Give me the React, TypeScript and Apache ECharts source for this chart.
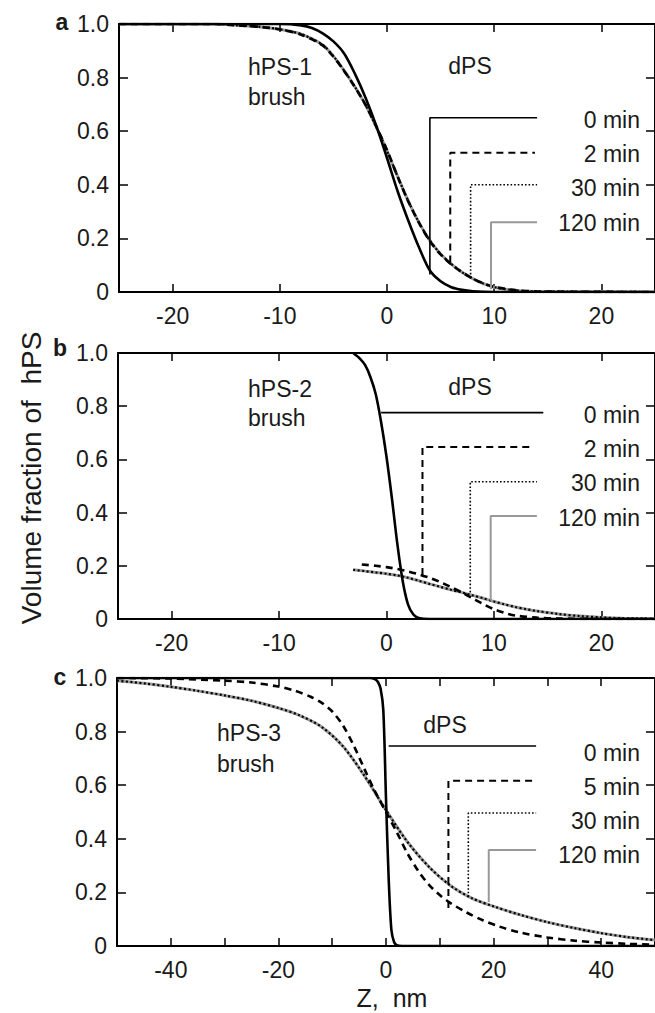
import React, { useEffect, useRef } from "react";
import * as echarts from "echarts";

// ---------- Data ----------
// Panel a (hPS-1 brush)
const aX0 = [-25, -10, -8, -7, -6, -5, -4, -3, -2, -1, 0, 1, 2, 3, 4, 5, 6, 7, 8, 10, 25];
const a0Min = [1, 1, 0.995, 0.985, 0.965, 0.935, 0.89, 0.815, 0.725, 0.62, 0.5, 0.375, 0.265, 0.165, 0.08, 0.04, 0.018, 0.008, 0.003, 0, 0];
const aX = [-25, -16, -14, -12, -10, -8, -6, -5, -4, -3, -2, -1, 0, 1, 2, 3, 4, 5, 6, 7, 8, 9, 10, 12, 14, 25];
const a2Min = [1, 1, 0.995, 0.99, 0.98, 0.96, 0.92, 0.878, 0.825, 0.765, 0.698, 0.618, 0.53, 0.43, 0.337, 0.257, 0.19, 0.14, 0.103, 0.074, 0.05, 0.032, 0.019, 0.007, 0.002, 0];
const a30Min = [1, 1, 0.995, 0.99, 0.98, 0.962, 0.922, 0.88, 0.826, 0.766, 0.698, 0.616, 0.527, 0.43, 0.338, 0.258, 0.192, 0.142, 0.104, 0.074, 0.05, 0.031, 0.018, 0.006, 0.002, 0];
const a120Min = [1, 1, 0.995, 0.99, 0.98, 0.962, 0.922, 0.88, 0.826, 0.766, 0.698, 0.616, 0.527, 0.43, 0.338, 0.258, 0.192, 0.142, 0.104, 0.074, 0.05, 0.031, 0.018, 0.006, 0.002, 0];

// Panel b (hPS-2 brush)
const bX0 = [-3.1, -2.5, -2, -1.5, -1, -0.5, 0, 0.5, 1, 1.5, 2, 2.5, 3, 4, 25];
const b0Min = [1, 0.98, 0.955, 0.91, 0.845, 0.74, 0.61, 0.455, 0.285, 0.145, 0.055, 0.017, 0.004, 0, 0];
const bX2 = [-2.3, -1, 0, 1, 2, 3, 4, 5, 6, 7, 8, 9, 10, 11, 12, 14, 16, 20, 25];
const b2Min = [0.205, 0.2, 0.195, 0.188, 0.179, 0.168, 0.155, 0.139, 0.12, 0.1, 0.078, 0.056, 0.037, 0.023, 0.013, 0.005, 0.002, 0, 0];
const bX = [-3.1, -2, -1, 0, 1, 2, 3, 4, 5, 6, 7, 8, 9, 10, 11, 12, 13, 14, 16, 18, 20, 22, 25];
const b30Min = [0.185, 0.18, 0.175, 0.17, 0.164, 0.155, 0.144, 0.132, 0.121, 0.11, 0.1, 0.089, 0.078, 0.066, 0.055, 0.045, 0.037, 0.03, 0.019, 0.011, 0.006, 0.003, 0.001];
const b120Min = [0.185, 0.18, 0.175, 0.17, 0.164, 0.155, 0.144, 0.132, 0.121, 0.11, 0.1, 0.089, 0.078, 0.066, 0.055, 0.045, 0.037, 0.03, 0.019, 0.011, 0.006, 0.003, 0.001];

// Panel c (hPS-3 brush)
const cX0 = [-50, -3, -2, -1.5, -1, -0.5, 0, 0.5, 1, 1.5, 2, 3, 50];
const c0Min = [1, 1, 0.995, 0.985, 0.96, 0.88, 0.55, 0.25, 0.06, 0.015, 0.003, 0, 0];
const cX5 = [-50, -40, -30, -25, -20, -17, -14, -12, -10, -8, -6, -4, -2, 0, 2, 4, 6, 8, 10, 12, 15, 18, 21, 25, 30, 35, 40, 45, 50];
const c5Min = [1, 0.998, 0.99, 0.983, 0.968, 0.953, 0.93, 0.908, 0.875, 0.823, 0.748, 0.66, 0.575, 0.5, 0.425, 0.345, 0.28, 0.228, 0.19, 0.16, 0.125, 0.096, 0.073, 0.05, 0.032, 0.02, 0.013, 0.008, 0.005];
const cX = [-50, -45, -40, -35, -30, -25, -20, -16, -12, -8, -4, 0, 4, 8, 12, 16, 20, 25, 30, 35, 40, 45, 50];
const c30Min = [0.99, 0.98, 0.967, 0.952, 0.935, 0.915, 0.888, 0.86, 0.818, 0.745, 0.635, 0.507, 0.388, 0.295, 0.225, 0.178, 0.148, 0.116, 0.089, 0.067, 0.048, 0.033, 0.022];
const c120Min = [0.99, 0.98, 0.967, 0.952, 0.935, 0.915, 0.888, 0.86, 0.818, 0.745, 0.635, 0.507, 0.388, 0.295, 0.225, 0.178, 0.148, 0.116, 0.089, 0.067, 0.048, 0.033, 0.022];

// Legend leader lines (data coordinates): [x, yCurve, yLabel, xEnd]
const aLeaders = [[4.0, 0.065, 0.65, 14.0], [5.9, 0.11, 0.52, 13.8], [7.8, 0.052, 0.40, 14.0], [9.7, 0.01, 0.26, 14.0]];
const bLeaders = [[-0.5, 0.776, 0.776, 14.6], [3.35, 0.165, 0.647, 13.7], [7.8, 0.1, 0.516, 14.0], [9.7, 0.069, 0.387, 14.0]];
const cLeaders = [[0.5, 0.746, 0.746, 27.9], [11.6, 0.142, 0.617, 27.9], [15.3, 0.183, 0.496, 27.9], [19.1, 0.164, 0.358, 27.9]];

const aTimes = ["0 min", "2 min", "30 min", "120 min"];
const bTimes = ["0 min", "2 min", "30 min", "120 min"];
const cTimes = ["0 min", "5 min", "30 min", "120 min"];

// ---------- Styles ----------
const FONT = "'Liberation Sans', Arial, Helvetica, sans-serif";
const GRAY = "#999999";
const curveStyles = [
  { color: "#000", width: 2.6, type: "solid" as any },
  { color: "#000", width: 2.6, type: [7, 5] as any },
  { color: "#000", width: 2.2, type: [2, 2.5] as any },
  { color: GRAY, width: 3, type: "solid" as any },
];
const leaderStyles = [
  { color: "#000", width: 1.6, type: "solid" as any },
  { color: "#000", width: 2, type: [7, 5] as any },
  { color: "#000", width: 1.6, type: [1.6, 2] as any },
  { color: GRAY, width: 2, type: "solid" as any },
];

const zip = (xs: number[], ys: number[]) => xs.map((x, i) => [x, ys[i]]);

export default function App() {
  const ref = useRef<HTMLDivElement>(null);
  useEffect(() => {
    if (!ref.current) return;
    const chart = echarts.init(ref.current, undefined, { renderer: "svg" });

    const grids = [
      { left: 119, top: 24, width: 540, height: 268 },
      { left: 118, top: 353, width: 541, height: 266 },
      { left: 117, top: 678, width: 545, height: 268 },
    ];
    const ranges = [[-25, 25], [-25, 25], [-50, 50]];
    const labelStep = [10, 10, 20];

    const xAxis: any[] = [];
    const yAxis: any[] = [];
    grids.forEach((g, gi) => {
      const [mn, mx] = ranges[gi];
      const common = {
        type: "value",
        gridIndex: gi,
        min: mn,
        max: mx,
        ...(gi === 2 ? { interval: 10 } : {}),
        splitLine: { show: false },
        axisLine: { show: true, onZero: false, lineStyle: { color: "#000", width: 2 } },
        axisTick: { show: true, inside: true, length: 8, lineStyle: { color: "#000", width: 1.5 } },
      };
      xAxis.push({
        ...common,
        position: "bottom",
        axisLabel: {
          show: true,
          margin: 12,
          fontSize: 23,
          color: "#1a1a1a",
          fontFamily: FONT,
          showMinLabel: false,
          showMaxLabel: false,
          formatter: (v: number) => (Math.abs(v) < mx && Math.round(v) % labelStep[gi] === 0 ? String(v) : ""),
        },
      });
      xAxis.push({ ...common, position: "top", axisLabel: { show: false } });
      const yCommon = {
        type: "value",
        gridIndex: gi,
        min: 0,
        max: 1,
        interval: 0.2,
        splitLine: { show: false },
        axisLine: { show: true, onZero: false, lineStyle: { color: "#000", width: 2 } },
        axisTick: { show: true, inside: true, length: 9, lineStyle: { color: "#000", width: 1.5 } },
      };
      yAxis.push({
        ...yCommon,
        position: "left",
        axisLabel: {
          show: true,
          margin: 10,
          fontSize: 23,
          color: "#1a1a1a",
          fontFamily: FONT,
          formatter: (v: number) => (v === 0 ? "0" : v.toFixed(1)),
        },
      });
      yAxis.push({ ...yCommon, position: "right", axisLabel: { show: false } });
    });

    const series: any[] = [];
    const zOf = [6, 5, 4, 3];
    const addCurve = (gi: number, xs: number[], ys: number[], si: number, name: string) => {
      series.push({
        type: "line",
        name,
        xAxisIndex: gi * 2,
        yAxisIndex: gi * 2,
        data: zip(xs, ys),
        showSymbol: false,
        smooth: 0.3,
        lineStyle: curveStyles[si],
        z: zOf[si],
        silent: true,
      });
    };
    const addLeaders = (gi: number, leaders: number[][]) => {
      leaders.forEach((l, i) => {
        const [x, yc, yl, xe] = l;
        const data = yc === yl ? [[x, yl], [xe, yl]] : [[x, yc], [x, yl], [xe, yl]];
        series.push({
          type: "line",
          xAxisIndex: gi * 2,
          yAxisIndex: gi * 2,
          data,
          showSymbol: false,
          lineStyle: leaderStyles[i],
          z: 8,
          silent: true,
        });
      });
    };

    addCurve(0, aX, a120Min, 3, "120 min");
    addCurve(0, aX, a30Min, 2, "30 min");
    addCurve(0, aX, a2Min, 1, "2 min");
    addCurve(0, aX0, a0Min, 0, "0 min");
    addLeaders(0, aLeaders);

    addCurve(1, bX, b120Min, 3, "120 min");
    addCurve(1, bX, b30Min, 2, "30 min");
    addCurve(1, bX2, b2Min, 1, "2 min");
    addCurve(1, bX0, b0Min, 0, "0 min");
    addLeaders(1, bLeaders);

    addCurve(2, cX, c120Min, 3, "120 min");
    addCurve(2, cX, c30Min, 2, "30 min");
    addCurve(2, cX5, c5Min, 1, "5 min");
    addCurve(2, cX0, c0Min, 0, "0 min");
    addLeaders(2, cLeaders);

    const txt = (text: string, x: number, y: number, opts: any = {}) => ({
      type: "text",
      x,
      y,
      z: 20,
      silent: true,
      style: {
        text,
        fill: "#1a1a1a",
        font: `${opts.weight || "normal"} ${opts.size || 23}px ${FONT}`,
        textAlign: opts.align || "left",
        textVerticalAlign: "middle",
        verticalAlign: "middle",
      },
      ...(opts.rotation ? { rotation: opts.rotation } : {}),
    });

    const legendLabelYs = [
      [120, 154, 188, 223],
      [415, 449, 483, 518],
      [753, 787, 821, 855],
    ];
    const timesAll = [aTimes, bTimes, cTimes];
    const graphic: any[] = [];
    timesAll.forEach((times, gi) => {
      times.forEach((t, i) => graphic.push(txt(t, 640, legendLabelYs[gi][i], { align: "right" })));
    });
    graphic.push(txt("hPS-1", 248, 67));
    graphic.push(txt("brush", 248, 97));
    graphic.push(txt("dPS", 470, 66, { align: "center" }));
    graphic.push(txt("hPS-2", 248, 389));
    graphic.push(txt("brush", 248, 418));
    graphic.push(txt("dPS", 470, 387, { align: "center" }));
    graphic.push(txt("hPS-3", 217, 733));
    graphic.push(txt("brush", 217, 764));
    graphic.push(txt("dPS", 445, 725, { align: "center" }));
    graphic.push(txt("a", 62, 22, { align: "center", weight: "bold", size: 23 }));
    graphic.push(txt("b", 60, 348, { align: "center", weight: "bold", size: 23 }));
    graphic.push(txt("c", 60, 677, { align: "center", weight: "bold", size: 23 }));
    graphic.push(txt("Volume fraction of  hPS", 31, 478, { align: "center", size: 28, rotation: Math.PI / 2 }));
    graphic.push(txt("Z,  nm", 392, 998, { align: "center", size: 25 }));

    chart.setOption({
      animation: false,
      backgroundColor: "#ffffff",
      grid: grids,
      xAxis,
      yAxis,
      series,
      graphic,
    });
    return () => chart.dispose();
  }, []);

  return (
    <div
      ref={ref}
      style={{ position: "absolute", left: 0, top: 0, width: 655, height: 1013, background: "#fff" }}
    />
  );
}
